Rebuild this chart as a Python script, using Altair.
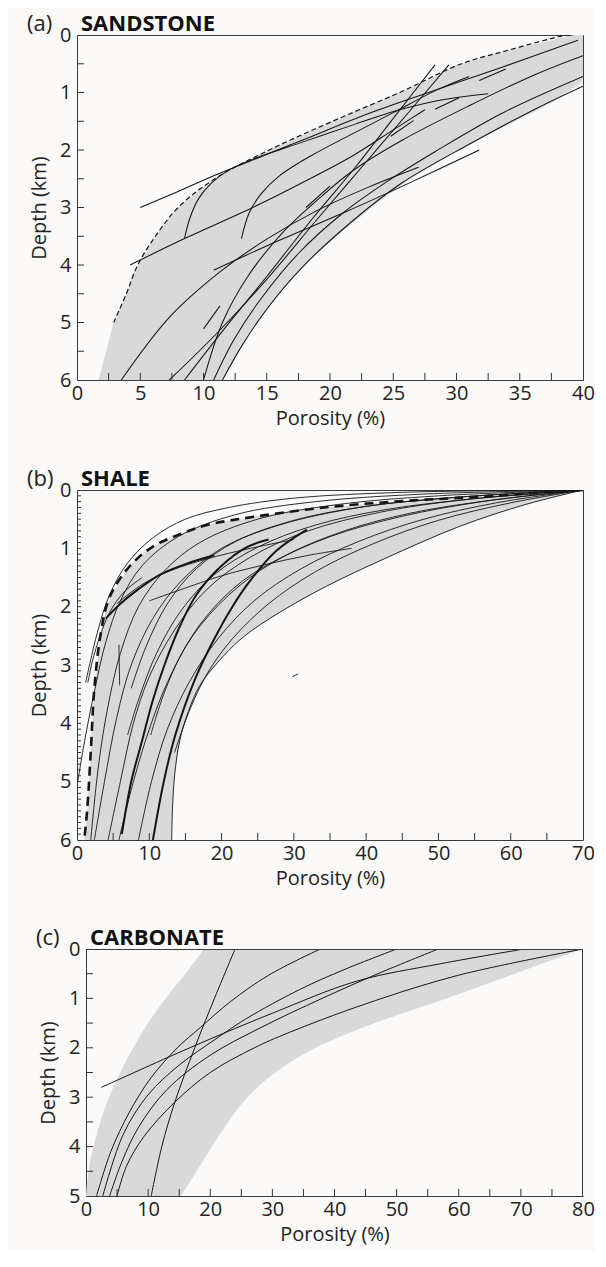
import altair as alt
import pandas as pd

FONT = "Open Sans"
INK = "#151515"
FRAME = "#3a3a3a"

# ---------------- (a) SANDSTONE ----------------
SAND_X_LABELS = [0, 5, 10, 15, 20, 25, 30, 35, 40]
SAND_X_TICKS = [2.5, 5, 7.5, 10, 12.5, 15, 17.5, 20, 22.5, 25, 27.5, 30, 32.5, 35, 37.5]
SAND_Y_LABELS = [0, 1, 2, 3, 4, 5, 6]
SAND_Y_TICKS = [0.5, 1, 1.5, 2, 2.5, 3, 3.5, 4, 4.5, 5, 5.5]

SAND_BAND_Z = [0, 0.25, 0.5, 0.75, 1.0, 1.25, 1.5, 1.75, 2.0, 2.25, 2.5, 2.75, 3.0,
               3.25, 3.5, 3.75, 4.0, 4.25, 4.5, 4.75, 5.0, 5.25, 5.5, 5.75, 6.0]
SAND_BAND_LEFT = [39.3, 34.5, 30.4, 28.0, 25.5, 22.8, 20.2, 17.7, 15.2, 13.0, 10.9, 9.4, 8.0,
                  7.0, 6.2, 5.5, 4.8, 4.3, 3.9, 3.4, 2.9, 2.6, 2.3, 2.0, 1.7]
SAND_BAND_RIGHT = [40, 40, 40, 40, 38.7, 36.9, 34.6, 32.4, 30.2, 28.3, 26.4, 24.8, 23.3,
                   21.9, 20.5, 19.2, 18.0, 16.9, 15.9, 15.0, 14.2, 13.4, 12.7, 12.1, 11.5]

SAND_DASH = [(39.0, 0.0), (38.3, 0.02), (34, 0.27), (30.4, 0.5), (25.5, 1.0), (20.2, 1.5), (15.2, 2.0),
             (10.9, 2.5), (8.0, 3.0), (6.2, 3.5), (4.8, 4.0), (3.9, 4.5), (2.9, 5.0)]

SAND_01 = [(5.0, 3.0), (8, 2.72), (11, 2.43), (14.5, 2.12), (17.8, 1.83), (23.1, 1.36), (28.3, 0.96), (33.6, 0.56), (39.6, 0.09)]
SAND_02 = [(8.5, 3.54), (8.9, 3.2), (9.6, 2.85), (10.6, 2.58), (12, 2.35), (14, 2.15), (18, 1.85), (22, 1.55), (25.5, 1.3), (29, 1.12), (32.5, 1.02)]
SAND_03 = [(4.2, 4.0), (8.5, 3.54), (13.9, 3.0), (17.8, 2.57), (21.8, 2.1), (25, 1.65), (27.5, 1.3)]
SAND_04 = [(13, 3.54), (13.6, 3.1), (14.6, 2.75), (16, 2.45), (18.5, 2.1), (21.5, 1.75), (25, 1.35), (28.5, 0.95), (31, 0.72)]
SAND_05 = [(28.3, 0.52), (25, 1.45), (22, 2.3), (18.7, 3.17), (15, 4.2), (11.5, 5.15), (8.5, 6.0)]
SAND_06 = [(29.4, 0.52), (26, 1.4), (22.5, 2.3), (19, 3.2), (15, 4.25), (11, 5.2), (7.3, 6.0)]
SAND_07 = [(40, 0.36), (36.2, 0.69), (31, 1.23), (25.7, 1.83), (21.8, 2.36), (19.2, 2.83), (16.2, 3.45), (13.5, 4.2), (11.5, 5.0), (10, 6.0)]
SAND_08 = [(40, 0.72), (33.6, 1.36), (28.3, 2.03), (24.5, 2.55), (21, 3.1), (17.5, 3.8), (14.5, 4.6), (12.4, 5.3), (10.8, 6.0)]
SAND_09 = [(40, 0.89), (36.2, 1.29), (31, 1.9), (25.7, 2.57), (21.8, 3.23), (17.8, 4.04), (15.2, 4.71), (13.1, 5.38), (11.5, 6.0)]
SAND_10 = [(3.5, 6.0), (7.3, 4.91), (11.3, 4.12), (15, 3.55), (19, 3.05), (23, 2.65), (27, 2.3)]
SAND_11 = [(10.8, 4.09), (16, 3.57), (21.3, 3.07), (26.5, 2.55), (31.8, 2.0)]
SAND_12 = [(10.0, 5.11), (11.3, 4.71)]
SAND_13 = [(18.1, 3.0), (20.0, 2.63)]
SAND_14 = [(24.8, 1.76), (26.6, 1.49)]
SAND_15 = [(31.8, 0.79), (33.9, 0.59)]
SAND_16 = [(28.3, 1.29), (30.2, 1.09)]
SAND_SOLID = [SAND_01, SAND_02, SAND_03, SAND_04, SAND_05, SAND_06, SAND_07, SAND_08, SAND_09,
              SAND_10, SAND_11, SAND_12, SAND_13, SAND_14, SAND_15, SAND_16]

# ---------------- (b) SHALE ----------------
SHALE_X_LABELS = [0, 10, 20, 30, 40, 50, 60, 70]
SHALE_X_TICKS = [5, 10, 15, 20, 25, 30, 35, 40, 45, 50, 55, 60, 65]
SHALE_Y_LABELS = [0, 1, 2, 3, 4, 5, 6]
SHALE_Y_TICKS = [round(0.1 * k, 1) for k in range(1, 60)]

SHALE_BAND_Z = [0, 0.1, 0.2, 0.3, 0.45, 0.6, 0.8, 1.0, 1.3, 1.6, 2.0, 2.5, 3.0, 3.5, 4.0, 4.5, 5.0, 5.5, 6.0]
SHALE_BAND_LEFT = [70, 57.5, 44, 34.4, 25, 18, 13.5, 10.2, 7.4, 5.75, 4.2, 3.25, 2.8, 2.35, 2.1, 1.9, 1.65, 1.4, 1.0]
SHALE_BAND_RIGHT = [70, 66.8, 63.6, 60.8, 57.1, 53.5, 49.6, 45.9, 40.5, 35.4, 29.5, 23.2, 19.2, 16.5, 14.9, 13.95, 13.45, 13.2, 13.1]

SHALE_DASH = [(70, 0.0), (55, 0.12), (45, 0.19), (35, 0.29), (25, 0.45), (18, 0.6), (14, 0.77), (10.5, 0.97),
              (7.2, 1.32), (4.5, 1.84), (3.3, 2.45), (2.4, 3.4), (1.9, 4.5), (1.4, 5.5), (1.0, 6.0)]

SHALE_01 = [(70, 0), (45, 0.04), (30, 0.14), (21, 0.3), (15, 0.5), (10.5, 0.82), (7, 1.25), (4.5, 1.8), (2.8, 2.45), (1.2, 3.3)]
SHALE_02 = [(70, 0), (48, 0.07), (33, 0.2), (22, 0.42), (14, 0.8), (9, 1.3), (6, 1.9), (4, 2.6), (2.5, 3.4), (1.2, 4.2), (0.1, 5.0)]
SHALE_03 = [(70, 0), (50, 0.1), (36, 0.25), (25, 0.5), (17, 0.9), (12, 1.4), (8.5, 2.0), (6, 2.8), (4.3, 3.7), (3, 4.7), (1.9, 6.0)]
SHALE_04 = [(70, 0), (52, 0.13), (39, 0.3), (28, 0.6), (20, 1.0), (14.5, 1.55), (10.5, 2.2), (7.5, 3.0), (5.5, 3.9), (3.8, 5.0), (2.4, 6.0)]
SHALE_05 = [(70, 0), (54, 0.16), (42, 0.38), (32, 0.7), (24, 1.15), (18, 1.7), (13.5, 2.4), (10, 3.2), (7.8, 4.0), (6, 5.0), (4.3, 6.0)]
SHALE_06 = [(70, 0), (56, 0.2), (45, 0.45), (35, 0.8), (27, 1.25), (21, 1.8), (16, 2.5), (12.5, 3.3), (10, 4.1), (7.8, 5.0), (5.8, 6.0)]
SHALE_07 = [(70, 0), (58, 0.22), (48, 0.5), (39, 0.88), (31, 1.35), (24.5, 1.9), (19.5, 2.55), (15.5, 3.3), (12.5, 4.1), (10.3, 5.0), (8.5, 6.0)]
SHALE_08 = [(70, 0), (62, 0.25), (53, 0.62), (42.5, 1.18), (34.5, 1.65), (28, 2.1), (23, 2.52), (19.5, 2.95), (17, 3.35),
            (15.4, 3.8), (14.2, 4.3), (13.5, 4.9), (13.2, 5.5), (13.1, 6.0)]
SHALE_09 = [(70, 0), (60, 0.22), (50, 0.52), (41, 0.92), (33, 1.4), (26.5, 1.95), (21.5, 2.55), (18, 3.15), (15.5, 3.8), (13.5, 4.5)]
SHALE_10 = [(70, 0), (55, 0.15), (43, 0.33), (33, 0.6), (25, 0.98), (19, 1.45), (14.5, 2.05), (11, 2.8), (8.5, 3.6), (7, 4.2)]
SHALE_11 = [(70, 0), (53, 0.12), (40, 0.28), (30, 0.52), (22, 0.88), (16.5, 1.35), (12.5, 1.95), (9.5, 2.7), (7.5, 3.4)]
SHALE_12 = [(70, 0), (57, 0.18), (46, 0.4), (37, 0.7), (29.5, 1.08), (23, 1.55), (18, 2.15), (14.5, 2.8), (12, 3.5), (10.2, 4.2)]
SHALE_13 = [(10, 1.9), (15, 1.68), (20, 1.47), (26, 1.28), (32, 1.12), (38, 1.0)]
SHALE_14 = [(5.5, 1.95), (9, 1.62), (13, 1.38), (18, 1.18), (24, 1.0), (30, 0.85)]
SHALE_15 = [(5.8, 2.65), (5.85, 3.0), (5.9, 3.35)]
SHALE_16 = [(1.5, 3.3), (2.2, 2.9), (3.2, 2.5), (4.5, 2.1), (6.5, 1.75), (9, 1.5)]
SHALE_17 = [(29.8, 3.2), (30.6, 3.15)]
SHALE_THIN = [SHALE_01, SHALE_02, SHALE_03, SHALE_04, SHALE_05, SHALE_06, SHALE_07, SHALE_08, SHALE_09,
              SHALE_10, SHALE_11, SHALE_12, SHALE_13, SHALE_14, SHALE_15, SHALE_16, SHALE_17]

SHALE_T1 = [(10.5, 6.0), (12, 5.0), (13.6, 4.2), (16.3, 3.25), (19, 2.55), (21.5, 2.0), (23.8, 1.58), (27.5, 1.05), (31.8, 0.68)]
SHALE_T2 = [(6.2, 5.9), (7.5, 5.0), (9, 4.3), (10.5, 3.6), (12.1, 3.0), (14, 2.4), (16.5, 1.8), (20, 1.3), (23.5, 0.98), (26.5, 0.85)]
SHALE_T3 = [(4, 2.2), (6, 1.95), (8.5, 1.7), (11.5, 1.45), (15, 1.27), (19, 1.12)]
SHALE_THICK = [SHALE_T1, SHALE_T2, SHALE_T3]

# ---------------- (c) CARBONATE ----------------
CARB_X_LABELS = [0, 10, 20, 30, 40, 50, 60, 70, 80]
CARB_X_TICKS = [5, 10, 15, 20, 25, 30, 35, 40, 45, 50, 55, 60, 65, 70, 75]
CARB_Y_LABELS = [0, 1, 2, 3, 4, 5]
CARB_Y_TICKS = [0.5, 1, 1.5, 2, 2.5, 3, 3.5, 4, 4.5]

CARB_BAND_Z = [0, 0.5, 1.0, 1.5, 2.0, 2.5, 3.0, 3.5, 4.0, 4.5, 5.0]
CARB_BAND_LEFT = [19, 16.0, 12.8, 10.0, 7.6, 5.5, 3.7, 2.3, 1.2, 0.4, 0]
CARB_BAND_RIGHT = [80, 69, 58, 46.5, 37, 30.5, 26, 22.9, 20.3, 17.8, 15.3]

CARB_01 = [(24, 0), (21, 0.9), (17.5, 2.0), (14.3, 3.1), (12.2, 4.0), (10.5, 5.0)]
CARB_02 = [(37.7, 0), (29.4, 0.53), (23.3, 1.06), (18.4, 1.59), (14.7, 2.0), (10.5, 2.6), (7, 3.3), (4, 4.1), (1.7, 5.0)]
CARB_03 = [(50, 0), (41.7, 0.41), (34.4, 0.82), (25.8, 1.41), (20.9, 1.82), (15, 2.35), (10, 2.95), (6, 3.75), (2.7, 5.0)]
CARB_04 = [(56.7, 0), (47, 0.5), (38, 1.0), (28, 1.6), (20, 2.15), (13, 2.85), (8.5, 3.6), (5.8, 4.3), (3.8, 5.0)]
CARB_05 = [(70.5, 0), (57, 0.3), (43.6, 0.65), (30, 1.3), (16.7, 2.0), (2.5, 2.8)]
CARB_06 = [(80, 0), (60, 0.53), (44.8, 1.12), (32.5, 1.7), (27.1, 2.0), (20, 2.5), (14.3, 3.1), (9.3, 3.8), (6.5, 4.4), (5, 5.0)]
CARB_SOLID = [CARB_01, CARB_02, CARB_03, CARB_04, CARB_05, CARB_06]


def curves_frame(curves):
    rows = []
    for k, pts in enumerate(curves):
        for i, (p, z) in enumerate(pts):
            rows.append((k, i, p, z))
    return pd.DataFrame(rows, columns=["curve", "i", "phi", "z"])


def build_panel(tag, name, xmax, ymax, xlabels, xticks, ylabels, yticks, ytick_len, W, H,
                band_z, band_l, band_r, solid, thin_w=1.0, thick=None, dashed=None,
                dash_w=1.2, dash_pat=(5, 3), shift=0):
    x_axis = dict(values=xlabels, title="Porosity (%)", labelPadding=3, titlePadding=5)
    y_axis = dict(values=ylabels, title="Depth (km)", labelPadding=6, titlePadding=10)
    if shift:
        x_axis.update(domain=True, domainColor=FRAME, domainWidth=1)
        y_axis.update(domain=True, domainColor=FRAME, domainWidth=1, offset=-shift)
    X = alt.X("phi:Q", scale=alt.Scale(domain=[0, xmax], nice=False, zero=False, range=[shift, W]),
              axis=alt.Axis(**x_axis))
    Y = alt.Y("z:Q", scale=alt.Scale(domain=[0, ymax], reverse=True, nice=False, zero=False),
              axis=alt.Axis(**y_axis))
    layers = []
    band_df = pd.DataFrame({"z": band_z, "phi": band_l, "phi2": band_r})
    layers.append(alt.Chart(band_df).mark_area(orient="horizontal", color="#d9d9d9",
                                               interpolate="monotone").encode(y=Y, x=X, x2="phi2:Q"))
    layers.append(alt.Chart(curves_frame(solid)).mark_line(
        color=INK, strokeWidth=thin_w, interpolate="catmull-rom", clip=True).encode(
        x=X, y=Y, detail="curve:N", order="i:Q"))
    if thick:
        layers.append(alt.Chart(curves_frame(thick)).mark_line(
            color=INK, strokeWidth=2.0, interpolate="catmull-rom", clip=True).encode(
            x=X, y=Y, detail="curve:N", order="i:Q"))
    if dashed:
        layers.append(alt.Chart(curves_frame([dashed])).mark_line(
            color=INK, strokeWidth=dash_w, strokeDash=list(dash_pat), interpolate="catmull-rom",
            clip=True).encode(x=X, y=Y, detail="curve:N", order="i:Q"))
    layers.append(alt.Chart(pd.DataFrame({"phi": xticks})).mark_rule(color="#333", strokeWidth=1).encode(
        x=X, y=alt.value(H), y2=alt.value(H - 7)))
    layers.append(alt.Chart(pd.DataFrame({"z": yticks})).mark_rule(color="#333", strokeWidth=1).encode(
        y=Y, x=alt.value(shift), x2=alt.value(shift + ytick_len)))
    if shift:
        frame_df = pd.DataFrame({"k": [0]})
        layers.append(alt.Chart(frame_df).mark_rule(color=FRAME, strokeWidth=1).encode(
            x=alt.value(shift), x2=alt.value(W), y=alt.value(0.5)))
        layers.append(alt.Chart(frame_df).mark_rule(color=FRAME, strokeWidth=1).encode(
            x=alt.value(W - 0.5), y=alt.value(0), y2=alt.value(H)))
    layers.append(alt.Chart(pd.DataFrame({"t": [tag]})).mark_text(
        align="left", baseline="middle", font=FONT, fontSize=22, color="#222").encode(
        text="t:N", x=alt.value(shift - 50), y=alt.value(-11)))
    layers.append(alt.Chart(pd.DataFrame({"t": [name]})).mark_text(
        align="left", baseline="middle", font=FONT, fontSize=22, fontWeight="bold", color="#111").encode(
        text="t:N", x=alt.value(shift + 4), y=alt.value(-11)))
    props = dict(width=W, height=H)
    if shift:
        props["view"] = alt.ViewBackground(strokeOpacity=0)
    return alt.layer(*layers).properties(**props)


pa = build_panel("(a)", "SANDSTONE", 40, 6, SAND_X_LABELS, SAND_X_TICKS, SAND_Y_LABELS, SAND_Y_TICKS, 7,
                 506, 345, SAND_BAND_Z, SAND_BAND_LEFT, SAND_BAND_RIGHT, SAND_SOLID,
                 thin_w=1.05, dashed=SAND_DASH, dash_w=1.2, dash_pat=(5, 3))
pb = build_panel("(b)", "SHALE", 70, 6, SHALE_X_LABELS, SHALE_X_TICKS, SHALE_Y_LABELS, SHALE_Y_TICKS, 4,
                 506, 350, SHALE_BAND_Z, SHALE_BAND_LEFT, SHALE_BAND_RIGHT, SHALE_THIN,
                 thin_w=0.9, thick=SHALE_THICK, dashed=SHALE_DASH, dash_w=2.6, dash_pat=(9, 6))
pc = build_panel("(c)", "CARBONATE", 80, 5, CARB_X_LABELS, CARB_X_TICKS, CARB_Y_LABELS, CARB_Y_TICKS, 7,
                 506, 247, CARB_BAND_Z, CARB_BAND_LEFT, CARB_BAND_RIGHT, CARB_SOLID,
                 thin_w=1.0, shift=9)

chart = alt.vconcat(pa, pb, pc, spacing=38).configure_view(
    stroke=FRAME, strokeWidth=1
).configure_axis(
    labelFont=FONT, titleFont=FONT, labelFontSize=20, titleFontSize=20, titleFontWeight="normal",
    labelColor="#222", titleColor="#222", ticks=False, domain=False, grid=False, labelFlush=False
).properties(background="#fbfaf8", padding={"left": 18, "top": 4, "right": 0, "bottom": 7})

chart.save("out.html", embed_options={"renderer": "svg", "actions": False})
